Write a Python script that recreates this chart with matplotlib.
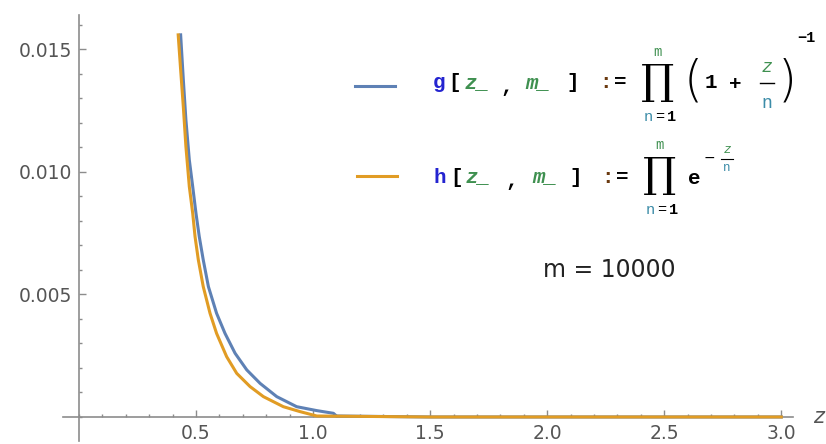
import matplotlib
matplotlib.use("Agg")
import matplotlib.pyplot as plt
from matplotlib.lines import Line2D
from matplotlib.ticker import MultipleLocator

# values (m = 10000)
g_z = [0.4345, 0.446, 0.457, 0.4715, 0.486, 0.500, 0.514, 0.531, 0.553, 0.588,
       0.624, 0.667, 0.717, 0.774, 0.845, 0.930, 1.016, 1.087, 1.10, 1.5, 2.0, 2.5, 3.0]
g_v = [0.01559, 0.01375, 0.01212, 0.01049, 0.00940, 0.00831, 0.00736, 0.00641, 0.00532, 0.00423,
       0.00341, 0.00260, 0.00192, 0.00137, 0.00083, 0.00042, 0.00026, 0.00015, 0.00004, 0.0, 0.0, 0.0, 0.0]

h_z = [0.424, 0.4345, 0.4459, 0.457, 0.4715, 0.486, 0.496, 0.510, 0.531, 0.560,
       0.588, 0.631, 0.674, 0.731, 0.788, 0.873, 0.944, 1.016, 1.5, 2.0, 2.5, 3.0]
h_v = [0.01559, 0.01416, 0.01266, 0.01103, 0.00940, 0.00831, 0.00736, 0.00641, 0.00532, 0.00423,
       0.00341, 0.00246, 0.00178, 0.00124, 0.00083, 0.00042, 0.00022, 0.00004, 0.0, 0.0, 0.0, 0.0]

x_ticks = [0.5, 1.0, 1.5, 2.0, 2.5, 3.0]
y_ticks = [0.005, 0.010, 0.015]

BLUE = '#5E81B5'
ORANGE = '#E19C24'
AXIS = '#8c8c8c'
LABEL = '#555555'

W, H = 826, 444
fig = plt.figure(figsize=(W / 100, H / 100), dpi=100)
ax = fig.add_axes([63 / W, 1 - 441 / H, (793 - 63) / W, (441 - 15) / H])

ax.plot(g_z, g_v, color=BLUE, lw=2.2, zorder=3)
ax.plot(h_z, h_v, color=ORANGE, lw=2.2, zorder=4)

ax.set_xlim(-0.068, 3.05)
ax.set_ylim(-0.00098, 0.0164)

for s in ['top', 'right']:
  ax.spines[s].set_visible(False)
ax.spines['left'].set_position(('data', 0))
ax.spines['bottom'].set_position(('data', 0))
for s in ['left', 'bottom']:
  ax.spines[s].set_color(AXIS)
  ax.spines[s].set_linewidth(1.2)

ax.set_xticks(x_ticks)
ax.set_xticklabels(['%.1f' % v for v in x_ticks])
ax.set_yticks(y_ticks)
ax.set_yticklabels(['%.3f' % v for v in y_ticks])
ax.xaxis.set_minor_locator(MultipleLocator(0.1))
ax.yaxis.set_minor_locator(MultipleLocator(0.001))
ax.tick_params(which='major', direction='in', length=5, width=1, color=AXIS,
               labelsize=13.5, labelcolor=LABEL, pad=5)
ax.tick_params(which='minor', direction='in', length=2.5, width=1, color=AXIS)
ax.patch.set_visible(False)

ax.text(3.16, 0.0, 'z', fontsize=15, style='italic', color=LABEL,
        ha='center', va='center', clip_on=False)


def ftxt(x, y, s, **kw):
  kw.setdefault('ha', 'center')
  kw.setdefault('va', 'center')
  fig.text(x / W, 1 - y / H, s, **kw)


mono = dict(family='Liberation Mono', fontweight='bold', fontsize=15)
KEY_BLUE = '#2424d0'
GREEN = '#3f9050'
TEAL = '#3c8ca8'
COLON = '#6b3a10'
prod = dict(family='DejaVu Serif', fontsize=30, color='k')

# legend keys
fig.add_artist(Line2D([355 / W, 395 / W], [1 - 86 / H, 1 - 86 / H], color=BLUE, lw=2.2))
fig.add_artist(Line2D([357 / W, 397 / W], [1 - 176 / H, 1 - 176 / H], color=ORANGE, lw=2.2))

# g[z_, m_] := prod (1 + z/n)^-1
ftxt(439, 83, 'g', color=KEY_BLUE, **mono)
ftxt(455, 83, '[', color='k', **mono)
ftxt(477, 83, 'z_', color=GREEN, style='italic', **mono)
ftxt(507, 86, ',', color='k', **mono)
ftxt(538, 83, 'm_', color=GREEN, style='italic', **mono)
ftxt(573, 83, ']', color='k', **mono)
ftxt(606, 83, ':', color=COLON, **mono)
ftxt(620, 83, '=', color='k', **mono)
ftxt(657, 82, '∏', **prod)
ftxt(657, 52, 'm', color=GREEN, family='Liberation Mono', fontsize=10)
ftxt(648, 117, 'n', color=TEAL, family='Liberation Mono', fontsize=11)
ftxt(660, 117, '=', color='k', family='Liberation Mono', fontsize=11)
ftxt(671, 117, '1', color='k', family='Liberation Mono', fontweight='bold', fontsize=11)
ftxt(693, 82, '(', color='k', family='DejaVu Sans', fontsize=35, fontweight='light')
ftxt(711, 83, '1', color='k', **mono)
ftxt(735, 84, '+', color='k', **mono)
ftxt(767, 67, 'z', color=GREEN, style='italic', family='Liberation Mono', fontsize=13)
fig.add_artist(Line2D([760 / W, 774 / W], [1 - 83 / H, 1 - 83 / H], color='k', lw=1))
ftxt(767, 103, 'n', color=TEAL, family='Liberation Mono', fontsize=13)
ftxt(787, 82, ')', color='k', family='DejaVu Sans', fontsize=35, fontweight='light')
ftxt(806, 38, '−1', color='k', family='Liberation Mono', fontweight='bold', fontsize=11)

# h[z_, m_] := prod e^(-z/n)
ftxt(440, 177, 'h', color=KEY_BLUE, **mono)
ftxt(457, 177, '[', color='k', **mono)
ftxt(478, 177, 'z_', color=GREEN, style='italic', **mono)
ftxt(512, 180, ',', color='k', **mono)
ftxt(545, 177, 'm_', color=GREEN, style='italic', **mono)
ftxt(576, 177, ']', color='k', **mono)
ftxt(608, 177, ':', color=COLON, **mono)
ftxt(622, 177, '=', color='k', **mono)
ftxt(659, 175, '∏', **prod)
ftxt(659, 145, 'm', color=GREEN, family='Liberation Mono', fontsize=10)
ftxt(650, 210, 'n', color=TEAL, family='Liberation Mono', fontsize=11)
ftxt(662, 210, '=', color='k', family='Liberation Mono', fontsize=11)
ftxt(673, 210, '1', color='k', family='Liberation Mono', fontweight='bold', fontsize=11)
ftxt(694, 178, 'e', color='k', **mono)
ftxt(709, 158, '−', color='k', family='DejaVu Sans', fontsize=10)
ftxt(727, 150, 'z', color=GREEN, style='italic', family='Liberation Mono', fontsize=9)
fig.add_artist(Line2D([721 / W, 733 / W], [1 - 159 / H, 1 - 159 / H], color='k', lw=0.8))
ftxt(727, 168, 'n', color=TEAL, family='Liberation Mono', fontsize=9)

ftxt(609, 270, 'm = 10000', color='#222222', family='DejaVu Sans', fontsize=17)

fig.savefig('out.png', dpi=100)
